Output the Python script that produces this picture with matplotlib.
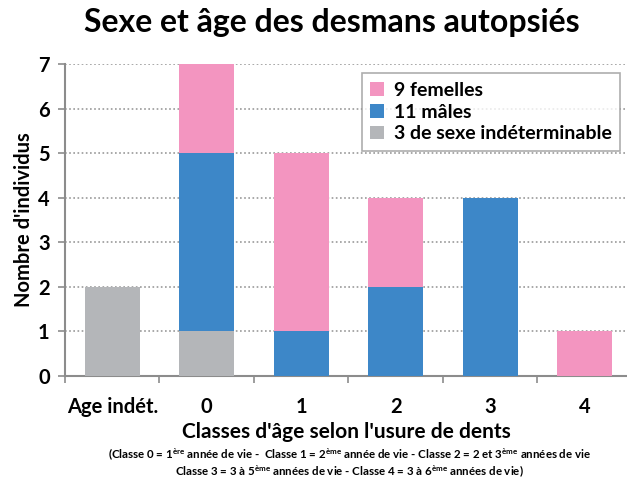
import matplotlib
matplotlib.use("Agg")
import matplotlib.pyplot as plt
import numpy as np

# Data
categories = ["Age indét.", "0", "1", "2", "3", "4"]
indetermines = [2, 1, 0, 0, 0, 0]
males = [0, 4, 1, 2, 4, 0]
femelles = [0, 2, 4, 2, 0, 1]

pink = "#F395C0"
blue = "#3D87C8"
gray = "#B4B6B9"
axis_gray = "#8C8C8C"

plt.rcParams["font.family"] = ["Lato", "DejaVu Sans"]
plt.rcParams["font.weight"] = "bold"
plt.rcParams["mathtext.fontset"] = "custom"
plt.rcParams["mathtext.rm"] = "Lato:bold"
plt.rcParams["mathtext.it"] = "Lato:bold"
plt.rcParams["mathtext.bf"] = "Lato:bold"

fig = plt.figure(figsize=(6.27, 4.8), dpi=100)
ax = fig.add_axes([0.1037, 0.2167, 0.904, 0.65])

x = np.arange(len(categories))
w = 0.58
ind = np.array(indetermines)
mal = np.array(males)
fem = np.array(femelles)

ax.bar(x, ind, w, color=gray, zorder=3, label="3 de sexe indéterminable")
ax.bar(x, mal, w, bottom=ind, color=blue, zorder=3, label="11 mâles")
ax.bar(x, fem, w, bottom=ind + mal, color=pink, zorder=3, label="9 femelles")

ax.set_xlim(-0.5, 5.5)
ax.set_ylim(0, 7)
ax.set_yticks(range(0, 8))
ax.yaxis.grid(True, linestyle=(0, (1, 1.5)), color="#999999", linewidth=1.2, zorder=0)

ax.set_xticks(x)
ax.set_xticklabels(categories, fontsize=14.5, fontweight="bold")
ax.set_xticks(np.arange(-0.5, 5.6, 1), minor=True)
ax.tick_params(axis="x", which="major", length=0, pad=15)
ax.tick_params(axis="x", which="minor", length=5, color=axis_gray, width=1.2, direction="out")
ax.tick_params(axis="y", length=5, color=axis_gray, width=1.2, labelsize=14.5, pad=6)
for lab in ax.get_yticklabels():
    lab.set_fontweight("bold")

for s in ["top", "right"]:
    ax.spines[s].set_visible(False)
for s in ["left", "bottom"]:
    ax.spines[s].set_color(axis_gray)
    ax.spines[s].set_linewidth(1.5)

ax.set_ylabel("Nombre d'individus", fontsize=14.5, fontweight="bold", labelpad=3)
fig.text(0.553, 0.1, "Classes d'âge selon l'usure de dents", fontsize=15,
         fontweight="bold", ha="center", va="center")

fig.text(0.53, 0.953, "Sexe et âge des desmans autopsiés", fontsize=23,
         fontweight="bold", ha="center", va="center")

foot1 = ("(Classe 0 = 1$^{\\mathrm{ère}}$ année de vie -  Classe 1 = 2$^{\\mathrm{ème}}$ année de vie"
         " - Classe 2 = 2 et 3$^{\\mathrm{ème}}$ années de vie")
foot2 = ("Classe 3 = 3 à 5$^{\\mathrm{ème}}$ années de vie - "
         "Classe 4 = 3 à 6$^{\\mathrm{ème}}$ années de vie)")
fig.text(0.558, 0.052, foot1, fontsize=8.3, fontweight="bold", ha="center", va="center")
fig.text(0.558, 0.016, foot2, fontsize=8.3, fontweight="bold", ha="center", va="center")

handles, labels = ax.get_legend_handles_labels()
leg = ax.legend(handles[::-1], labels[::-1], loc="upper right",
                bbox_to_anchor=(0.99, 0.99), fontsize=14, frameon=True,
                fancybox=False, edgecolor="#999999", handlelength=0.7,
                handleheight=0.7, handletextpad=0.5, labelspacing=0.25,
                borderpad=0.45, borderaxespad=0.3)
leg.get_frame().set_linewidth(1.2)
for t in leg.get_texts():
    t.set_fontweight("bold")

fig.savefig("out.png", dpi=100)
